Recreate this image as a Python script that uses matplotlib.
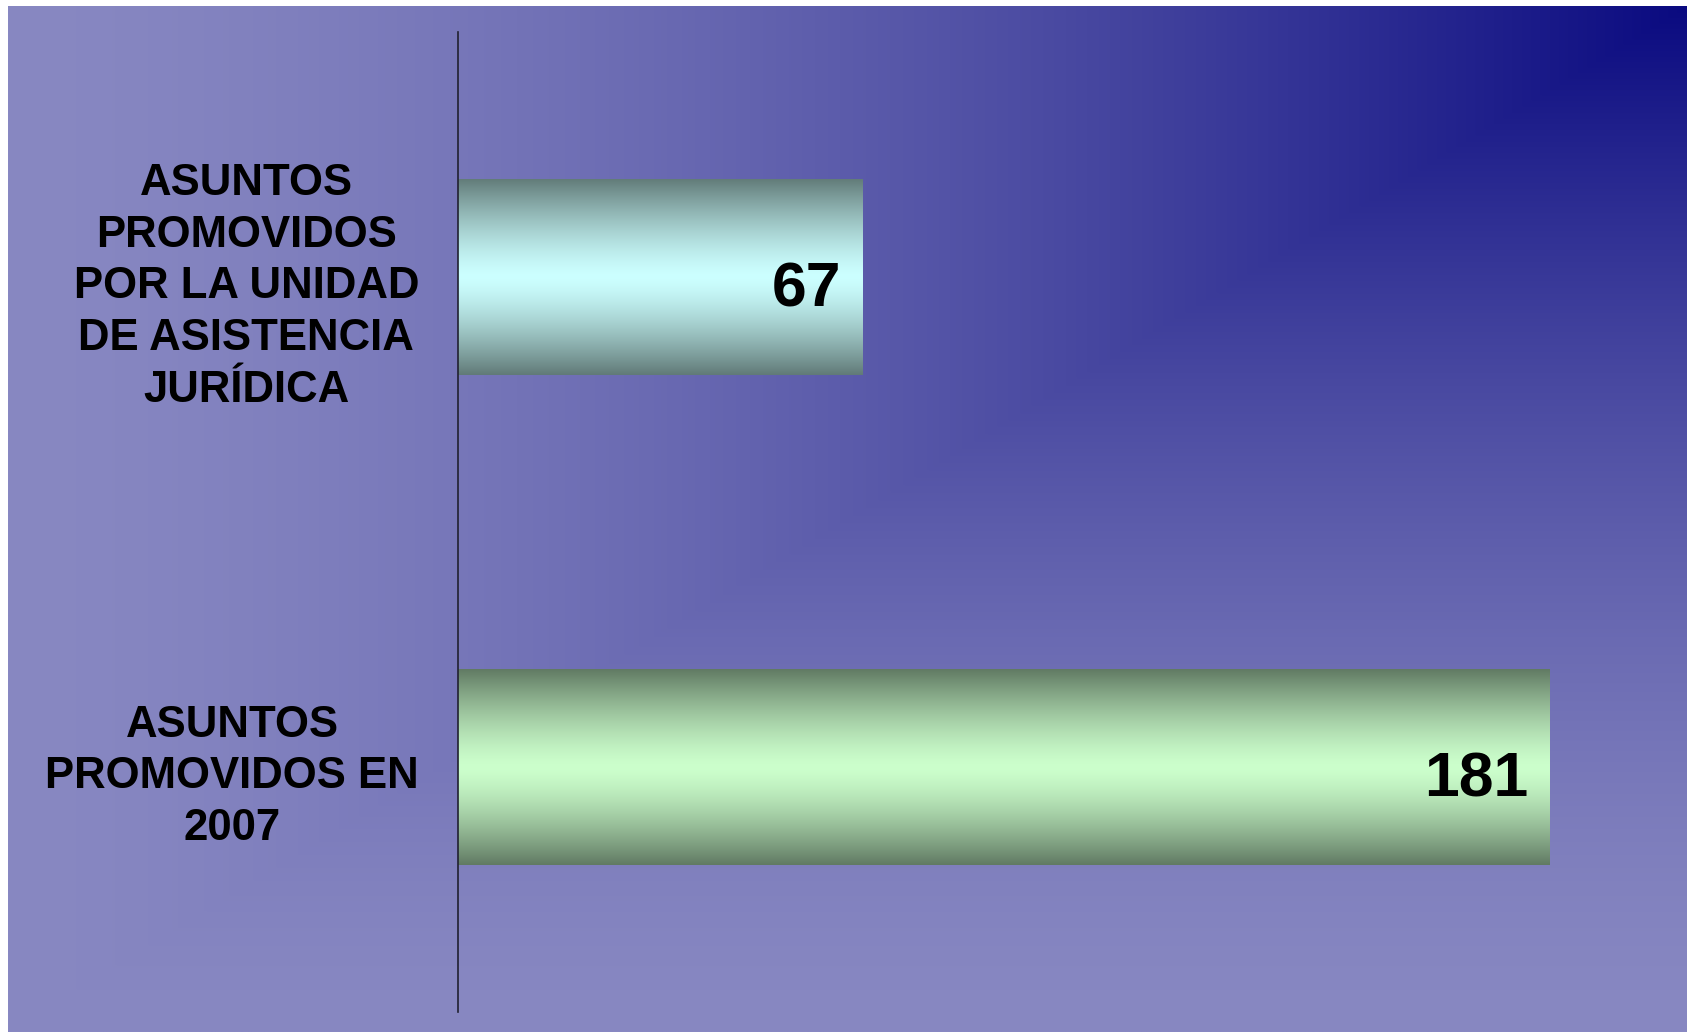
import numpy as np
import matplotlib
matplotlib.use('Agg')
import matplotlib.pyplot as plt

# datos
categorias = ['ASUNTOS\nPROMOVIDOS EN\n2007',
              'ASUNTOS\nPROMOVIDOS\nPOR LA UNIDAD\nDE ASISTENCIA\nJURÍDICA']
valores = [181, 67]
etiquetas = ['181', '67']

# colores de las barras (borde oscuro, centro claro)
bordes = [(0.38, 0.48, 0.39), (0.38, 0.48, 0.47)]
centros = [(0.80, 1.00, 0.80), (0.80, 1.00, 1.00)]

W, H = 1693, 1032
fig = plt.figure(figsize=(W / 100, H / 100), dpi=100, facecolor='white')

# fondo con degradado desde la esquina superior derecha
fondo = fig.add_axes([8 / W, 0, (1687 - 8) / W, 1026 / H])
ny, nx = 400, 660
xx, yy = np.meshgrid(np.linspace(0, 1, nx), np.linspace(0, 1, ny))
t = np.maximum(1 - xx, yy)  # yy=0 arriba
k = (1 - t) ** 1.5
navy = np.array([10, 10, 128]) / 255
lav = np.array([136, 136, 194]) / 255
rgb = lav + (navy - lav) * k[..., None]
fondo.imshow(rgb, aspect='auto', extent=[0, 1, 0, 1], origin='upper')
fondo.axis('off')

ax = fig.add_axes([458 / W, 20 / H, 1206 / W, 980 / H])
ax.set_facecolor('none')

barras = ax.barh(range(len(valores)), valores, height=0.4, color='none', edgecolor='none')

# degradado vertical dentro de cada barra
s = np.linspace(0, 1, 256)
d = np.abs(2 * s - 1) ** 1.4
for b, c_borde, c_centro in zip(barras, bordes, centros):
    c0 = np.array(c_centro)
    c1 = np.array(c_borde)
    grad = c0 + (c1 - c0) * d[:, None]
    img = np.repeat(grad[:, None, :], 2, axis=1)
    x0, y0 = b.get_x(), b.get_y()
    im = ax.imshow(img, aspect='auto', extent=(x0, x0 + b.get_width(), y0, y0 + b.get_height()),
                   origin='lower', zorder=2)
    im.set_clip_path(b)

for b, txt in zip(barras, etiquetas):
    ax.annotate(txt, (b.get_width(), b.get_y() + b.get_height() / 2),
                xytext=(-15, -21), textcoords='offset points',
                ha='right', va='baseline', fontsize=45, fontweight='bold',
                family='Liberation Sans', color='black', zorder=3)

ax.set_xlim(0, 200)
ax.set_ylim(-0.5, len(valores) - 0.5)

ax.set_yticks(range(len(categorias)))
ax.set_yticklabels(categorias, fontsize=31.5, fontweight='bold', family='Liberation Sans')
for lab in ax.get_yticklabels():
    lab.set_multialignment('center')
    lab.set_linespacing(1.34)
ax.tick_params(axis='y', length=0, pad=28)
ax.set_xticks([])

for lado in ['top', 'right', 'bottom']:
    ax.spines[lado].set_visible(False)
ax.spines['left'].set_color('#202030')
ax.spines['left'].set_linewidth(1.2)

fig.savefig('out.png', dpi=100, facecolor='white')
